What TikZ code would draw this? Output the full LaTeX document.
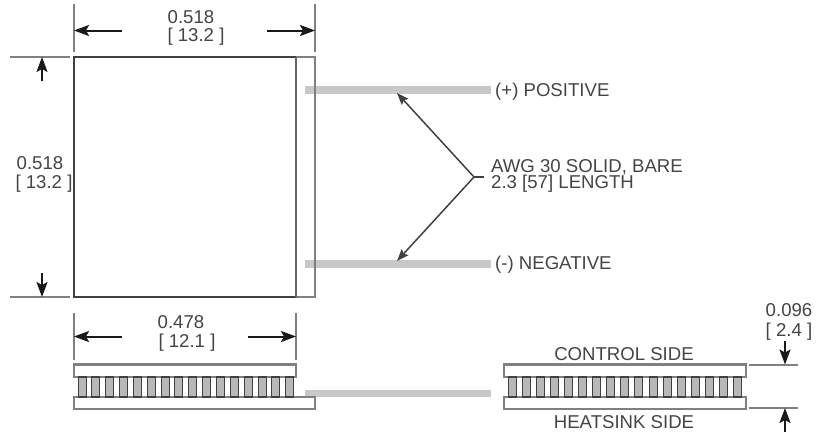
\documentclass[tikz,border=0pt]{standalone}
\usepackage{fontspec}
\setmainfont{Liberation Sans}
\usetikzlibrary{arrows.meta}
\definecolor{ln}{HTML}{808080}
\definecolor{dk}{HTML}{404040}
\definecolor{tx}{HTML}{444444}
\definecolor{wr}{HTML}{C8C8C8}
\definecolor{pel}{HTML}{B8B8B8}
\tikzset{
 x=1pt,y=-1pt,
 lbl/.style={font=\fontsize{18.6}{22}\selectfont,text=tx,inner sep=0pt,align=center},
 lbll/.style={lbl,anchor=west},
 ext/.style={draw=ln,line width=2pt},
 dimline/.style={draw=black!90,line width=2pt,-{Stealth[length=15pt,width=11pt,inset=3pt]}},
 leader/.style={draw=dk,line width=1.5pt},
 leadarrow/.style={leader,-{Stealth[length=12pt,width=9pt,inset=2pt]}},
 plate/.style={draw=ln,line width=2.2pt,fill=white},
 wire/.style={draw=wr,line width=7.5pt},
 pellet/.style={draw=dk,line width=1.2pt,fill=pel},
 body/.style={draw=dk,line width=2.4pt}
}
\begin{document}
\begin{tikzpicture}
\useasboundingbox (0,0) rectangle (826,434);
% wires
\coordinate (wp1) at (305,90); \coordinate (wp2) at (491,90);
\coordinate (wn1) at (305,264); \coordinate (wn2) at (491,264);
\coordinate (ws1) at (305,393.5); \coordinate (ws2) at (491,393.5);
% top view
\draw[plate] (74,57) rectangle (315,297);
\draw[wire] (wp1) -- (wp2);
\draw[wire] (wn1) -- (wn2);
\draw[plate,fill=none] (315,57) -- (315,297);
\draw[body] (296,57) -- (74,57) -- (74,297) -- (296,297);
\draw[draw=ln!80!black,line width=2.2pt] (296,57) -- (296,297);
% top dimension
\coordinate (a1) at (74,4); \coordinate (a2) at (74,52);
\coordinate (b1) at (315,4); \coordinate (b2) at (315,52);
\draw[ext] (a1) -- (a2); \draw[ext] (b1) -- (b2);
\coordinate (ta1) at (122,30.5); \coordinate (ta2) at (74,30.5);
\coordinate (tb1) at (267,30.5); \coordinate (tb2) at (315,30.5);
\draw[dimline] (ta1) -- (ta2); \draw[dimline] (tb1) -- (tb2);
\node[lbl] (t1) at (191,17) {0.518};
\node[lbl] (t2) at (196,37) {[ 13.2 ]};
% left dimension
\coordinate (c1) at (10,57); \coordinate (c2) at (70,57);
\coordinate (d1) at (10,297); \coordinate (d2) at (70,297);
\draw[ext] (c1) -- (c2); \draw[ext] (d1) -- (d2);
\coordinate (la1) at (42,81); \coordinate (la2) at (42,57);
\coordinate (lb1) at (42,273); \coordinate (lb2) at (42,297);
\draw[dimline] (la1) -- (la2); \draw[dimline] (lb1) -- (lb2);
\node[lbl] (l1) at (40,163) {0.518};
\node[lbl] (l2) at (44,184) {[ 13.2 ]};
% leader
\coordinate (v) at (474,177);
\coordinate (vt) at (484,177);
\coordinate (up) at (397,93);
\coordinate (dn) at (397,261);
\draw[leader] (vt) -- (v);
\draw[leadarrow] (v) -- (up);
\draw[leadarrow] (v) -- (dn);
\node[lbll] (pos) at (495,92) {(+) POSITIVE};
\node[lbll] (neg) at (495,265) {(-) NEGATIVE};
\node[lbll,align=left,font=\fontsize{18.6}{16.5}\selectfont] (awg) at (491,176) {AWG 30 SOLID, BARE\\2.3 [57] LENGTH};
% lower-left dimension
\coordinate (e1) at (74,313); \coordinate (e2) at (74,360);
\coordinate (f1) at (296,313); \coordinate (f2) at (296,360);
\draw[ext] (e1) -- (e2); \draw[ext] (f1) -- (f2);
\coordinate (ba1) at (122,336.5); \coordinate (ba2) at (74,336.5);
\coordinate (bb1) at (248,336.5); \coordinate (bb2) at (296,336.5);
\draw[dimline] (ba1) -- (ba2); \draw[dimline] (bb1) -- (bb2);
\node[lbl] (b1t) at (181,322) {0.478};
\node[lbl] (b2t) at (187,343) {[ 12.1 ]};
% side view left
\draw[wire] (ws1) -- (ws2);
\draw[plate] (74,364.5) rectangle (296,377);
\draw[plate] (74,397) rectangle (315,409);
\foreach \i in {0,...,15}{
 \draw[pellet] ({round(77.5+\i*13.85)+0.5},377) rectangle ++(8,20);
}
% side view right
\draw[plate] (504,364.5) rectangle (746,377);
\draw[plate] (504,397) rectangle (746,409);
\foreach \i in {0,...,16}{
 \draw[pellet] ({round(507.5+\i*14.1)+0.5},377) rectangle ++(8,20);
}
\node[lbl] (cs) at (624,354.5) {CONTROL SIDE};
\node[lbl] (hs) at (624,422) {HEATSINK SIDE};
% right dimension
\coordinate (g1) at (749,364.5); \coordinate (g2) at (798,364.5);
\coordinate (h1) at (749,408); \coordinate (h2) at (798,408);
\draw[ext] (g1) -- (g2); \draw[ext] (h1) -- (h2);
\coordinate (ra1) at (785,341); \coordinate (ra2) at (785,364.5);
\coordinate (rb1) at (785,432); \coordinate (rb2) at (785,408);
\draw[dimline] (ra1) -- (ra2); \draw[dimline] (rb1) -- (rb2);
\node[lbl] (r1) at (789,310) {0.096};
\node[lbl] (r2) at (789,332) {[ 2.4 ]};
\end{tikzpicture}
\end{document}
